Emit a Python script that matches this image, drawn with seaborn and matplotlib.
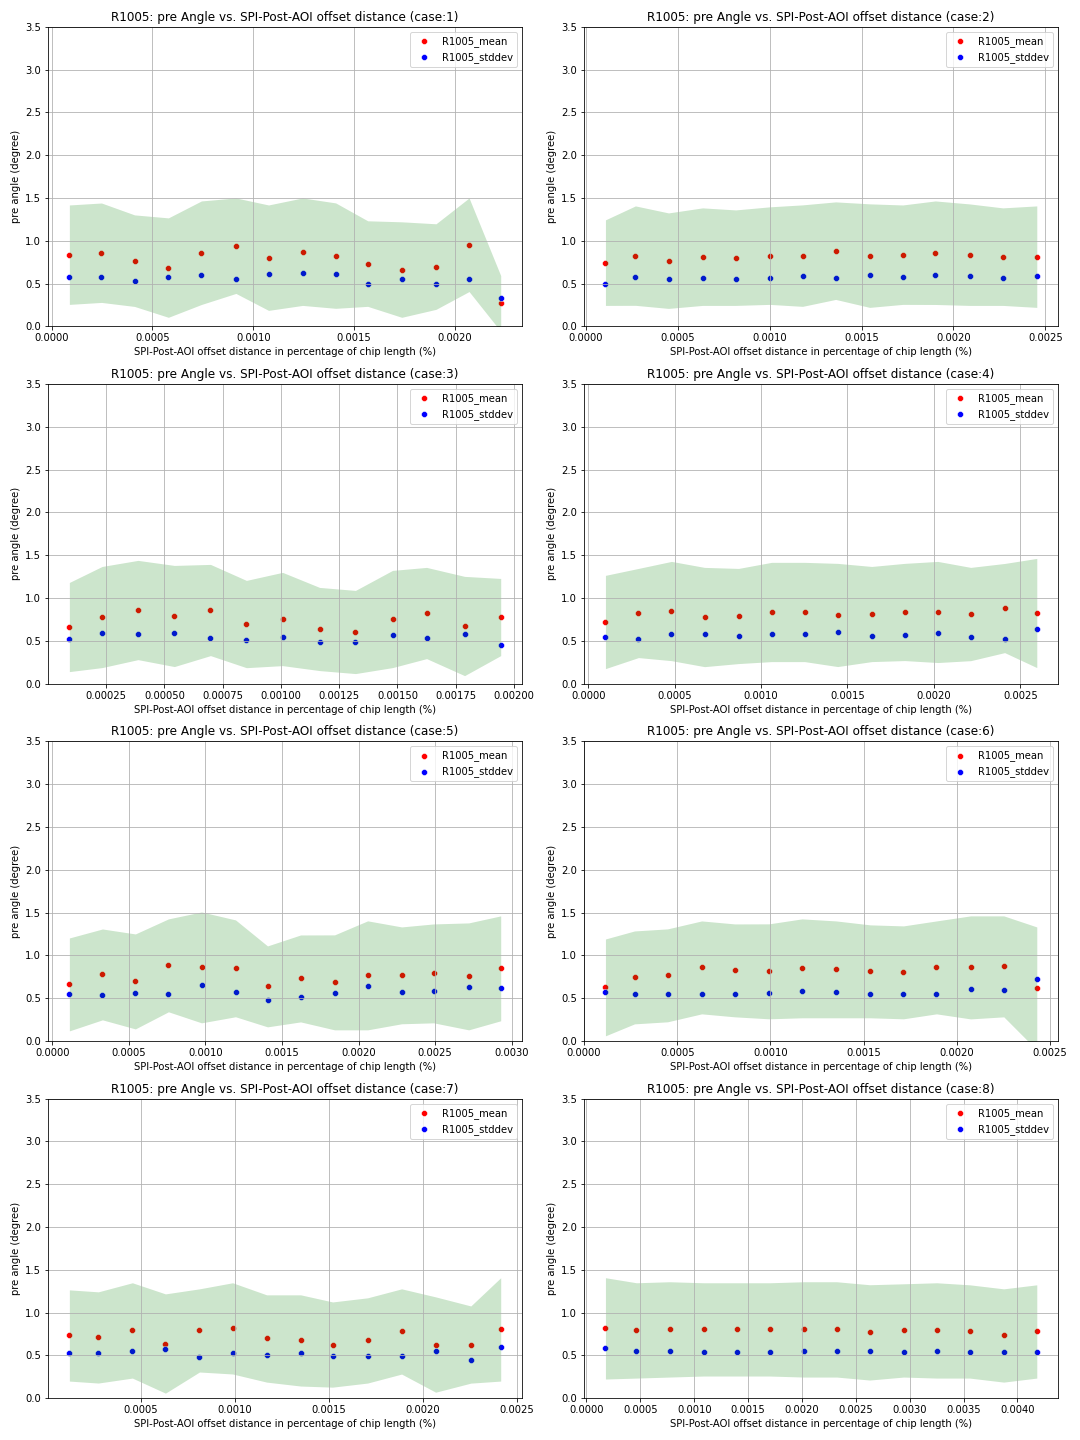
import matplotlib
matplotlib.use("Agg")
import matplotlib.pyplot as plt
import seaborn as sns
import numpy as np
import pandas as pd

# offset distance (x), mean and stddev of pre angle per case
case1_x = [0.0000877, 0.000247, 0.000411, 0.000579, 0.000743, 0.000914, 0.001076,
           0.001245, 0.001409, 0.001568, 0.001737, 0.001907, 0.002071, 0.002228]
case1_mean = [0.837, 0.860, 0.767, 0.686, 0.860, 0.942, 0.802, 0.872, 0.826, 0.733, 0.663, 0.698, 0.953, 0.267]
case1_std = [0.581, 0.581, 0.535, 0.581, 0.605, 0.558, 0.616, 0.628, 0.616, 0.500, 0.558, 0.500, 0.547, 0.326]

case2_x = [0.000107, 0.000270, 0.000450, 0.000635, 0.000815, 0.001000, 0.001179,
           0.001359, 0.001544, 0.001724, 0.001901, 0.002088, 0.002268, 0.002453]
case2_mean = [0.744, 0.826, 0.767, 0.814, 0.802, 0.826, 0.826, 0.884, 0.826, 0.837, 0.860, 0.837, 0.814, 0.814]
case2_std = [0.500, 0.581, 0.558, 0.570, 0.558, 0.570, 0.593, 0.570, 0.605, 0.581, 0.605, 0.593, 0.570, 0.593]

case3_x = [0.0000926, 0.000233, 0.000387, 0.000543, 0.000698, 0.000852, 0.001007,
           0.001166, 0.001320, 0.001479, 0.001625, 0.001788, 0.001943]
case3_mean = [0.661, 0.778, 0.860, 0.790, 0.860, 0.696, 0.755, 0.638, 0.603, 0.755, 0.825, 0.673, 0.778]
case3_std = [0.521, 0.591, 0.580, 0.591, 0.533, 0.510, 0.545, 0.486, 0.486, 0.568, 0.533, 0.580, 0.451]

case4_x = [0.000100, 0.000291, 0.000482, 0.000673, 0.000870, 0.001061, 0.001252,
           0.001443, 0.001640, 0.001831, 0.002022, 0.002213, 0.002409, 0.002595]
case4_mean = [0.720, 0.825, 0.848, 0.778, 0.790, 0.837, 0.837, 0.802, 0.813, 0.837, 0.837, 0.813, 0.883, 0.825]
case4_std = [0.545, 0.521, 0.580, 0.580, 0.556, 0.580, 0.580, 0.603, 0.556, 0.568, 0.591, 0.545, 0.521, 0.638]

case5_x = [0.000111, 0.000327, 0.000542, 0.000758, 0.000974, 0.001196, 0.001405,
           0.001621, 0.001843, 0.002059, 0.002281, 0.002490, 0.002719, 0.002928]
case5_mean = [0.660, 0.777, 0.695, 0.883, 0.859, 0.848, 0.637, 0.730, 0.684, 0.766, 0.766, 0.789, 0.754, 0.848]
case5_std = [0.543, 0.531, 0.555, 0.543, 0.648, 0.566, 0.473, 0.508, 0.555, 0.637, 0.566, 0.578, 0.625, 0.613]

case6_x = [0.000115, 0.000271, 0.000448, 0.000631, 0.000809, 0.000992, 0.001169,
           0.001352, 0.001535, 0.001713, 0.001890, 0.002073, 0.002251, 0.002428]
case6_mean = [0.625, 0.742, 0.766, 0.859, 0.824, 0.813, 0.848, 0.836, 0.813, 0.801, 0.859, 0.859, 0.871, 0.613]
case6_std = [0.566, 0.543, 0.543, 0.543, 0.543, 0.555, 0.578, 0.566, 0.543, 0.543, 0.543, 0.602, 0.590, 0.719]

case7_x = [0.000119, 0.000273, 0.000454, 0.000630, 0.000811, 0.000987, 0.001168,
           0.001349, 0.001519, 0.001705, 0.001886, 0.002067, 0.002254, 0.002413]
case7_mean = [0.733, 0.710, 0.792, 0.639, 0.792, 0.816, 0.698, 0.675, 0.627, 0.675, 0.780, 0.627, 0.627, 0.804]
case7_std = [0.533, 0.533, 0.557, 0.580, 0.486, 0.533, 0.510, 0.533, 0.498, 0.498, 0.498, 0.557, 0.451, 0.604]

case8_x = [0.000176, 0.000464, 0.000771, 0.001087, 0.001393, 0.001700, 0.002015,
           0.002322, 0.002628, 0.002944, 0.003251, 0.003557, 0.003873, 0.004180]
case8_mean = [0.816, 0.792, 0.804, 0.804, 0.804, 0.804, 0.804, 0.804, 0.769, 0.792, 0.792, 0.780, 0.733, 0.780]
case8_std = [0.592, 0.557, 0.557, 0.545, 0.545, 0.545, 0.557, 0.557, 0.557, 0.545, 0.557, 0.545, 0.545, 0.545]

cases = [
    (1, case1_x, case1_mean, case1_std),
    (2, case2_x, case2_mean, case2_std),
    (3, case3_x, case3_mean, case3_std),
    (4, case4_x, case4_mean, case4_std),
    (5, case5_x, case5_mean, case5_std),
    (6, case6_x, case6_mean, case6_std),
    (7, case7_x, case7_mean, case7_std),
    (8, case8_x, case8_mean, case8_std),
]

fig, axes = plt.subplots(4, 2, figsize=(15, 20), dpi=72)

for (case, xs, means, stds), ax in zip(cases, axes.flatten()):
    df = pd.DataFrame({"offset": xs, "mean": means, "std": stds})

    sns.scatterplot(data=df, x="offset", y="mean", color="red", label="R1005_mean", ax=ax)
    sns.scatterplot(data=df, x="offset", y="std", color="blue", label="R1005_stddev", ax=ax)

    # band: mean +/- stddev
    ax.fill_between(df["offset"], df["mean"] - df["std"], df["mean"] + df["std"],
                    color="g", alpha=0.2, linewidth=0)

    ax.set_ylim(0, 3.5)
    ax.set_yticks(np.arange(0, 3.51, 0.5))
    ax.grid(True)
    ax.set_title(f"R1005: pre Angle vs. SPI-Post-AOI offset distance (case:{case})", fontsize=12)
    ax.set_xlabel("SPI-Post-AOI offset distance in percentage of chip length (%)")
    ax.set_ylabel("pre angle (degree)")
    ax.legend(loc="upper right")

plt.tight_layout()
plt.savefig("out.png")
plt.close()
